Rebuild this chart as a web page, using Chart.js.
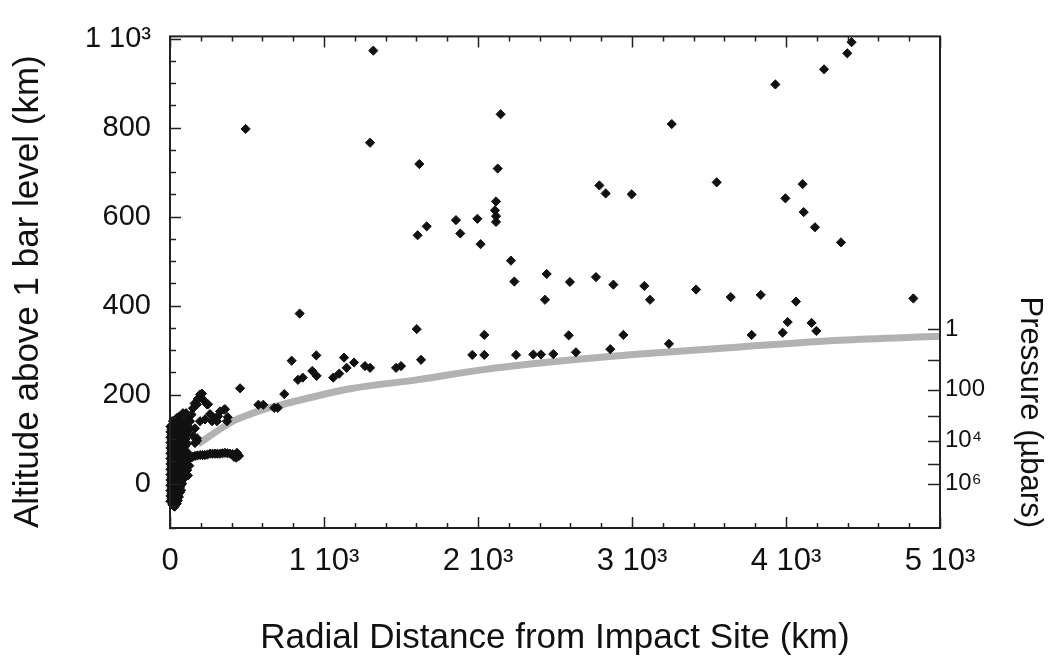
<!DOCTYPE html>
<html>
<head>
<meta charset="utf-8">
<script src="https://cdn.jsdelivr.net/npm/chart.js@4"></script>
<style>
  html, body { margin: 0; padding: 0; background: #fff; }
  #wrap { width: 1049px; height: 659px; }
</style>
</head>
<body>
<div id="wrap"><canvas id="chart" width="1049" height="659"></canvas></div>
<script>
// ---------------------------------------------------------------------------
//  DATA
// ---------------------------------------------------------------------------

// scattered high-altitude points
const outerDist = [1320, 491, 1299, 2147, 1619, 2128, 2117, 2110, 2117, 2117, 1857, 1996, 1667, 1608, 1885, 2017,
    2214, 2236, 2446, 4426, 4398, 4247, 3931, 3258, 2788, 2829, 2998, 3550, 4108, 3996, 4115, 4188, 4357,
    2597, 2766, 2879, 2435, 842, 1602, 2041, 1963, 2041, 2247, 2359, 2409, 1630, 790, 950, 1130, 924, 952,
    831, 862, 1060, 1099, 1147, 1195, 1266, 1299, 1468, 1500, 455, 742, 574, 606, 677, 700, 351, 375,
    3080, 3117, 3416, 3641, 3836, 4065, 4827, 2489, 2589, 2636, 2859, 2944, 3240, 3777, 3978, 4011, 4166, 4197];
const outerAlt = [973, 797, 766, 830, 718, 708, 634, 614, 601, 588, 592, 595, 578, 558, 562, 538,
    501, 454, 471, 992, 967, 931, 897, 808, 670, 652, 650, 677, 673, 641, 610, 576, 542,
    453, 464, 447, 413, 382, 347, 334, 289, 289, 289, 290, 290, 278, 276, 288, 283, 253, 242,
    233, 238, 238, 247, 260, 272, 264, 260, 260, 264, 214, 201, 177, 177, 170, 170, 166, 149,
    444, 413, 436, 419, 424, 409, 416, 291, 333, 295, 302, 334, 314, 334, 339, 363, 361, 343];

// dense core near the impact site
const coreDist = [
    3, 3, 3, 3, 3, 3, 3, 3, 3, 3, 3, 3, 3, 3, 3,
    16, 16, 16, 16, 16, 16, 16, 16, 16, 16, 16, 16, 16, 16, 16, 16,
    30, 30, 30, 30, 30, 30, 30, 30, 30, 30, 30, 30, 30, 30, 30, 30, 30,
    44, 44, 44, 44, 44, 44, 44, 44, 44, 44, 44, 44, 44, 44, 44, 44, 44,
    58, 58, 58, 58, 58, 58, 58, 58, 58, 58, 58, 58, 58, 58, 58, 58,
    72, 72, 72, 72, 72, 72, 72, 72, 72, 72, 72, 72, 72, 72,
    86, 86, 86, 86, 86, 86, 86, 86, 86, 86, 86,
    100, 100, 100, 100, 100, 100, 100, 117, 125];
const coreAlt = [
    -40, -28, -16, -4, 8, 20, 32, 44, 56, 68, 80, 92, 104, 116, 128,
    -48, -36, -24, -12, 0, 12, 24, 36, 48, 60, 72, 84, 96, 108, 120, 132,
    -52, -40, -28, -16, -4, 8, 20, 32, 44, 56, 68, 80, 92, 104, 116, 128, 140,
    -45, -33, -21, -9, 3, 15, 27, 39, 51, 63, 75, 87, 99, 111, 123, 135, 147,
    -30, -18, -6, 6, 18, 30, 42, 54, 66, 78, 90, 102, 114, 126, 138, 150,
    -15, -3, 9, 21, 33, 45, 57, 69, 81, 93, 105, 117, 129, 141,
    10, 22, 34, 46, 58, 70, 82, 94, 106, 118, 130,
    20, 40, 60, 85, 100, 115, 130, 18, 40];

// more core points in between the columns above
const coreFillDist = [
    10, 10, 10, 10, 10, 10, 10, 10, 10, 10, 10, 10, 10, 10,
    23, 23, 23, 23, 23, 23, 23, 23, 23, 23, 23, 23, 23, 23, 23, 23,
    37, 37, 37, 37, 37, 37, 37, 37, 37, 37, 37, 37, 37, 37, 37, 37,
    51, 51, 51, 51, 51, 51, 51, 51, 51, 51, 51, 51, 51, 51, 51, 51,
    65, 65, 65, 65, 65, 65, 65, 65, 65, 65, 65, 65, 65, 65,
    79, 79, 79, 79, 79, 79, 79, 79, 79, 79, 79, 79,
    93, 93, 93, 93, 93, 93, 93, 93, 93, 93,
    112, 112, 112, 112, 112];
const coreFillAlt = [
    -34, -22, -10, 2, 14, 26, 38, 50, 62, 74, 86, 98, 110, 122,
    -50, -38, -26, -14, -2, 10, 22, 34, 46, 58, 70, 82, 94, 106, 118, 130,
    -46, -34, -22, -10, 2, 14, 26, 38, 50, 62, 74, 86, 98, 110, 122, 134,
    -38, -26, -14, -2, 10, 22, 34, 46, 58, 70, 82, 94, 106, 118, 130, 142,
    -20, -8, 4, 16, 28, 40, 52, 64, 76, 88, 100, 112, 124, 136,
    0, 12, 24, 36, 48, 60, 72, 84, 96, 108, 120, 132,
    16, 28, 40, 52, 64, 76, 88, 100, 112, 124,
    30, 50, 70, 90, 110];

// arms reaching up and right from the core
const armDist = [13, 19, 84, 149, 195, 208, 214, 240, 175, 247, 260, 273, 292, 305, 312, 325, 357, 370,
    130, 130, 162, 149, 175, 175, 162, 97, 65, 117, 52, 104, 195, 227, 180, 160, 120, 140];
const armAlt = [124, 140, 158, 169, 200, 202, 189, 178, 178, 178, 156, 140, 147, 140, 151, 162, 167, 140,
    140, 124, 124, 107, 102, 96, 91, 118, 129, 144, 144, 158, 140, 144, 190, 180, 150, 155];

// low horizontal branch
const branchDist = [97, 110, 130, 146, 162, 178, 195, 211, 227, 243, 260, 276, 292, 308, 325, 341, 357,
    373, 390, 406, 422, 435, 441, 448, 416, 430];
const branchAlt = [47, 52, 58, 60, 62, 63, 64, 64, 64, 65, 67, 67, 67, 67, 67, 68, 69,
    68, 67, 66, 64, 69, 64, 62, 60, 58];

// grey 1 microbar curve
const curveDist = [182, 409, 520, 630, 734, 1169, 1602, 2035, 2468, 3052, 3701, 4351, 5000];
const curveAlt = [89, 140, 156, 169, 178, 213, 233, 256, 273, 291, 307, 322, 331];

// right axis: altitude of each pressure tick and its label
const pressureTickAlt = [347, 278, 211, 151, 96, 44, 0];
const pressureLabels = ["1", "", "100", "", "10\u2074", "", "10\u2076"];

function pairs(xs, ys) {
    return xs.map((x, i) => ({ x: x, y: ys[i] }));
}

function sci(v) {
    if (v === 0) return "0";
    if (v % 1000 === 0) return (v / 1000) + " 10\u00B3";
    return String(v);
}

// ---------------------------------------------------------------------------
//  INWARD TICKS + FRAME
// ---------------------------------------------------------------------------
const frameTicks = {
    id: "frameTicks",
    afterDatasetsDraw(chart) {
        const { ctx, chartArea: a, scales } = chart;
        ctx.save();
        ctx.strokeStyle = "#222";
        ctx.lineWidth = 1.5;
        ctx.beginPath();
        scales.x.ticks.forEach(t => {
            const px = Math.round(scales.x.getPixelForValue(t.value)) + 0.5;
            const len = t.value % 1000 === 0 ? 11 : 5;
            ctx.moveTo(px, a.bottom); ctx.lineTo(px, a.bottom - len);
            ctx.moveTo(px, a.top); ctx.lineTo(px, a.top + len);
        });
        scales.y.ticks.forEach(t => {
            const py = Math.round(scales.y.getPixelForValue(t.value)) + 0.5;
            const len = t.value % 200 === 0 ? 11 : 6;
            ctx.moveTo(a.left, py); ctx.lineTo(a.left + len, py);
        });
        scales.yP.ticks.forEach(t => {
            const py = Math.round(scales.yP.getPixelForValue(t.value)) + 0.5;
            ctx.moveTo(a.right, py); ctx.lineTo(a.right - 12, py);
        });
        ctx.stroke();
        ctx.lineWidth = 2;
        ctx.strokeRect(a.left, a.top, a.right - a.left, a.bottom - a.top);
        ctx.restore();
    }
};

// ---------------------------------------------------------------------------
//  CHART
// ---------------------------------------------------------------------------
Chart.defaults.font.family = "'Liberation Sans', Arial, Helvetica, sans-serif";
Chart.defaults.color = "#111";

const dot = {
    type: "scatter",
    pointStyle: "rectRot",
    pointRadius: 4.6,
    pointBorderWidth: 1,
    backgroundColor: "#111",
    borderColor: "#111",
    clip: false
};

new Chart(document.getElementById("chart"), {
    type: "scatter",
    data: {
        datasets: [
            Object.assign({ label: "outer", data: pairs(outerDist, outerAlt) }, dot),
            Object.assign({ label: "core", data: pairs(coreDist, coreAlt) }, dot),
            Object.assign({ label: "core fill", data: pairs(coreFillDist, coreFillAlt) }, dot),
            Object.assign({ label: "arms", data: pairs(armDist, armAlt) }, dot),
            Object.assign({ label: "branch", data: pairs(branchDist, branchAlt) }, dot),
            {
                type: "line",
                label: "1 microbar",
                data: pairs(curveDist, curveAlt),
                borderColor: "#b2b2b2",
                borderWidth: 7,
                pointRadius: 0,
                cubicInterpolationMode: "monotone",
                fill: false
            }
        ]
    },
    options: {
        responsive: false,
        animation: false,
        layout: { padding: { top: 30, left: 0, right: 0, bottom: 0 } },
        plugins: { legend: { display: false }, tooltip: { enabled: false } },
        scales: {
            x: {
                type: "linear",
                min: 0, max: 5000,
                grid: { display: false, drawTicks: false },
                border: { display: false },
                afterFit(s) { s.height = 131; },
                ticks: {
                    stepSize: 200, autoSkip: false, maxRotation: 0,
                    padding: 15,
                    font: { size: 31 },
                    callback: v => (v % 1000 === 0 ? sci(v) : "")
                },
                title: {
                    display: true,
                    text: "Radial Distance from Impact Site (km)",
                    font: { size: 35 },
                    padding: { top: 0, bottom: 0 }
                }
            },
            y: {
                type: "linear",
                position: "left",
                min: -100, max: 1005,
                grid: { display: false, drawTicks: false },
                border: { display: false },
                afterFit(s) { s.width = 170; },
                ticks: {
                    stepSize: 50, includeBounds: false, autoSkip: false,
                    padding: 19,
                    font: { size: 29 },
                    callback: v => (v % 200 === 0 && v >= 0 ? sci(v) : "")
                },
                title: {
                    display: true,
                    text: "Altitude above 1 bar level (km)",
                    align: "start",
                    font: { size: 35 },
                    padding: { top: 7, bottom: 0 }
                }
            },
            yP: {
                type: "linear",
                position: "right",
                min: -100, max: 1005,
                grid: { display: false, drawTicks: false },
                border: { display: false },
                afterFit(s) { s.width = 109; },
                afterBuildTicks(s) { s.ticks = pressureTickAlt.map(v => ({ value: v })); },
                ticks: {
                    autoSkip: false,
                    padding: 5,
                    font: { size: 24 },
                    callback: (v, i) => pressureLabels[i]
                },
                title: {
                    display: true,
                    text: "Pressure (\u00B5bars)",
                    align: "start",
                    font: { size: 31 },
                    padding: { top: 1, bottom: 0 }
                }
            }
        }
    },
    plugins: [frameTicks]
});
</script>
</body>
</html>
